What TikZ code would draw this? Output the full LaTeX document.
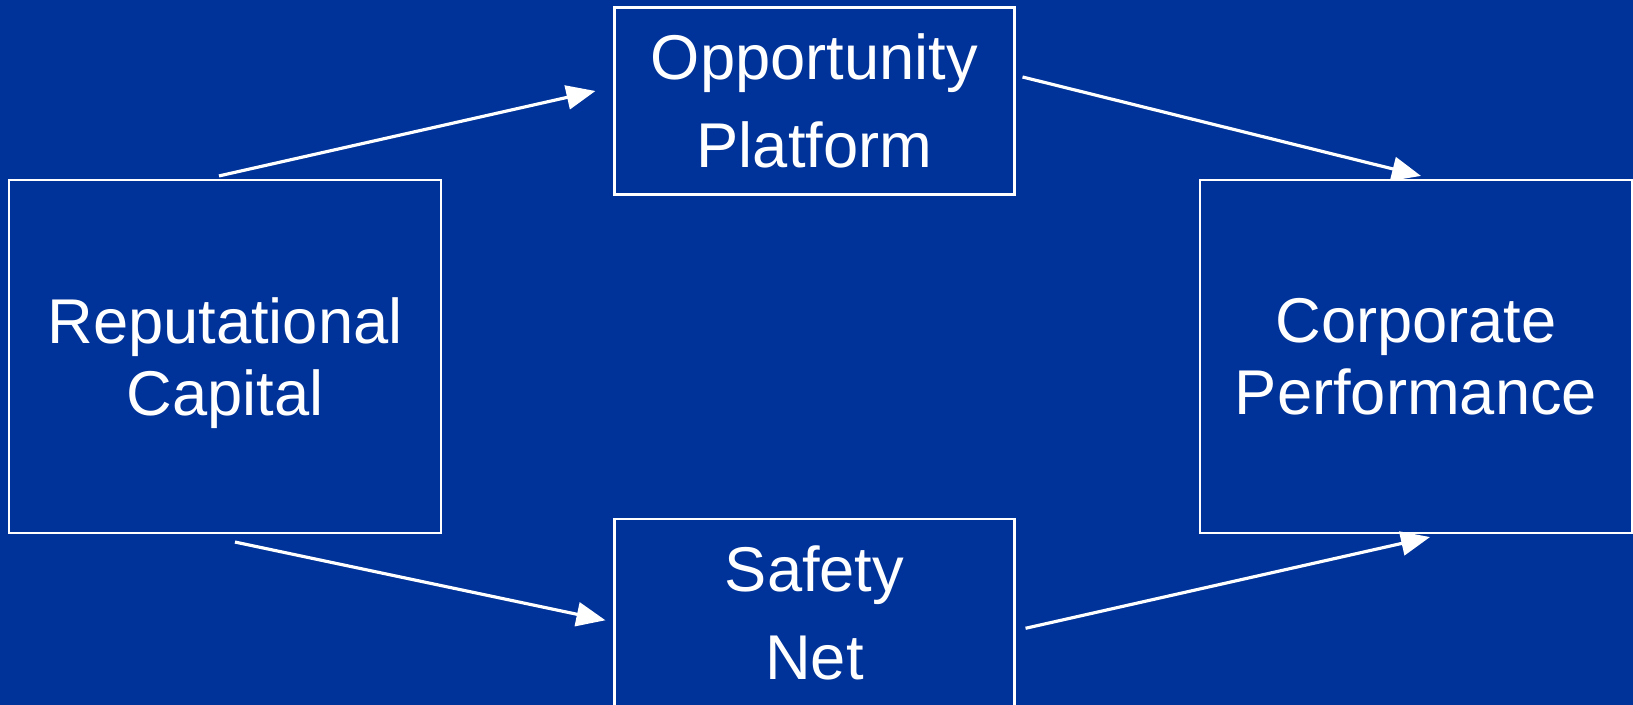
\documentclass[tikz,border=0pt]{standalone}
\usepackage{fontspec}
\setmainfont{Liberation Sans}
\usepackage[dvipsnames]{xcolor}
\definecolor{BGcolor}{HTML}{003399}
\usepackage{tikz}
\usetikzlibrary{calc, arrows.meta}

\begin{document}
\begin{tikzpicture}
    \tikzset{%
        stage/.style={draw=white, line width=0.6pt, text=white, align=center, inner sep=0pt,
                text depth=0pt, minimum width=#1},
        bigstage/.style={stage=4.32cm, minimum height=3.53cm, font=\fontsize{18pt}{20.5pt}\selectfont},
        smallstage/.style={stage=4.0cm, minimum height=1.87cm, font=\fontsize{18pt}{25pt}\selectfont},
        link/.style={draw=white, line width=0.9pt, -{Triangle[length=0.29cm, width=0.24cm]}}
    }

    % background
    \fill [BGcolor] (0, 0) rectangle (16.33, 7.05);
    \useasboundingbox (0, 0) rectangle (16.33, 7.05);

    % boxes
    \node [bigstage] (rc) at (2.25, 3.485) {Reputational\\Capital};
    \node [smallstage] (op) at (8.145, 6.04) {Opportunity\\Platform};
    \node [smallstage] (sn) at (8.145, 0.927) {Safety\\Net};
    \node [bigstage] (cp) at (14.16, 3.485) {Corporate\\Performance};

    % arrow ends
    \coordinate (rc-up) at ($(rc.north)+(-0.06, 0.03)$);
    \coordinate (rc-down) at ($(rc.south)+(0.10, -0.08)$);
    \coordinate (op-in) at ($(op.west)+(-0.18, 0.10)$);
    \coordinate (op-out) at ($(op.east)+(0.07, 0.24)$);
    \coordinate (sn-in) at ($(sn.west)+(-0.08, -0.08)$);
    \coordinate (sn-out) at ($(sn.east)+(0.10, -0.16)$);
    \coordinate (cp-up) at ($(cp.north)+(0.05, 0.03)$);
    \coordinate (cp-down) at ($(cp.south)+(0.14, -0.03)$);

    % arrows
    \draw [link] (rc-up) -- (op-in);
    \draw [link] (op-out) -- (cp-up);
    \draw [link] (rc-down) -- (sn-in);
    \draw [link] (sn-out) -- (cp-down);
\end{tikzpicture}
\end{document}
